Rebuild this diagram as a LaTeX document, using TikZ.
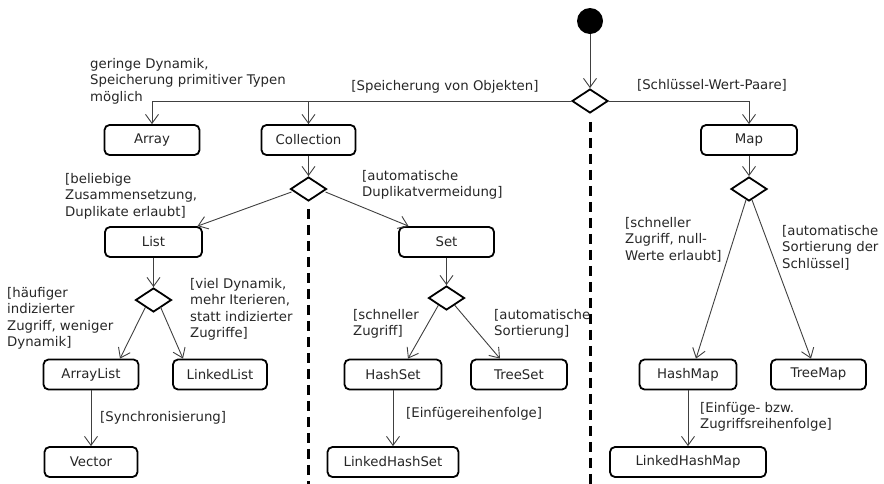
\documentclass[tikz,border=0pt]{standalone}
\usepackage{fontspec}
\setmainfont{DejaVu Sans}
\usetikzlibrary{arrows.meta,shapes.geometric,calc}
\begin{document}
\begin{tikzpicture}[x=1pt,y=-1pt,
  every node/.style={font=\fontsize{13.3}{16.5}\selectfont, text=black!85},
  state/.style={draw=black, line width=1.8pt, rounded corners=5pt,
    minimum height=30pt, inner sep=0pt, fill=white},
  choice/.style={draw=black, line width=1.8pt, diamond, minimum width=36pt,
    minimum height=24pt, inner sep=0pt, fill=white},
  flow/.style={draw=black!75, line width=0.9pt,
    -{Straight Barb[length=9pt,width=13pt,line width=0.9pt]}},
  divider/.style={draw=black, line width=3pt, dash pattern=on 10pt off 6pt},
  guard/.style={align=left, inner sep=0pt, anchor=north west},
]
\useasboundingbox (0,0) rectangle (884,483);
\coordinate (bottomedge) at (0,486);

% initial node and decisions
\node[circle, fill=black, minimum size=26pt, inner sep=0pt] (start) at (590,21) {};
\node[choice] (topd) at (590,101) {};
\node[choice] (cold) at (308.5,189) {};
\node[choice] (listd) at (153.5,300) {};
\node[choice] (setd) at (446.5,298) {};
\node[choice] (mapd) at (749,189) {};

% swimlane separators
\draw[divider] ($(topd.south)+(0,8)$) -- (topd |- bottomedge);
\draw[divider] ($(cold.south)+(0,7)$) -- (cold |- bottomedge);

% actions
\node[state, minimum width=95pt] (array) at (152,140) {Array};
\node[state, minimum width=94pt] (collection) at (308.5,140) {Collection};
\node[state, minimum width=96pt] (map) at (749,140) {Map};
\node[state, minimum width=97pt] (list) at (153.5,242) {List};
\node[state, minimum width=95pt] (set) at (446.5,242) {Set};
\node[state, minimum width=95pt] (arraylist) at (91,374.5) {ArrayList};
\node[state, minimum width=94pt] (linkedlist) at (220,374.5) {LinkedList};
\node[state, minimum width=93pt] (vector) at (91,462) {Vector};
\node[state, minimum width=97pt] (hashset) at (393,374.5) {HashSet};
\node[state, minimum width=96pt] (treeset) at (519,374.5) {TreeSet};
\node[state, minimum width=131pt] (linkedhashset) at (393,462) {LinkedHashSet};
\node[state, minimum width=97pt] (hashmap) at (688,374.5) {HashMap};
\node[state, minimum width=95pt] (treemap) at (818.5,374.5) {TreeMap};
\node[state, minimum width=156pt] (linkedhashmap) at (688,462) {LinkedHashMap};

% control flow
\draw[flow] (start.south) -- (topd.north);
\draw[flow] (topd.west) -| (array.north);
\draw[flow] (topd.west) -| (collection.north);
\draw[flow] (topd.east) -| (map.north);
\draw[flow] (collection.south) -- (cold.north);
\draw[flow] ($(cold)+(-17,3)$) -- ($(list.north)+(44,0)$);
\draw[flow] ($(cold)+(17,3)$) -- ($(set.north)+(-38,0)$);
\draw[flow] (list.south) -- (listd.north);
\draw[flow] ($(listd)+(-8,7)$) -- ($(arraylist.north)+(29,0)$);
\draw[flow] ($(listd)+(7,7)$) -- ($(linkedlist.north)+(-37,0)$);
\draw[flow] (arraylist.south) -- (vector.north);
\draw[flow] (set.south) -- (setd.north);
\draw[flow] ($(setd)+(-8,7)$) -- ($(hashset.north)+(15,0)$);
\draw[flow] ($(setd)+(8,7)$) -- ($(treeset.north)+(-19,0)$);
\draw[flow] (hashset.south) -- (linkedhashset.north);
\draw[flow] (map.south) -- (mapd.north);
\draw[flow] ($(mapd)+(-3,11)$) -- ($(hashmap.north)+(8,0)$);
\draw[flow] ($(mapd)+(3,11)$) -- ($(treemap.north)+(-7.5,0)$);
\draw[flow] (hashmap.south) -- (linkedhashmap.north);

% guards
\node[guard] (g1) at (90,58) {geringe Dynamik,\\Speicherung primitiver Typen\\möglich};
\node (g2) at (445,87) {[Speicherung von Objekten]};
\node (g3) at (712,85) {[Schlüssel-Wert-Paare]};
\node[guard] (g4) at (65,173) {[beliebige\\Zusammensetzung,\\Duplikate erlaubt]};
\node[guard] (g5) at (362,170) {[automatische\\Duplikatvermeidung]};
\node[guard] (g6) at (7,287) {[häufiger\\indizierter\\Zugriff, weniger\\Dynamik]};
\node[guard] (g7) at (190,278) {[viel Dynamik,\\mehr Iterieren,\\statt indizierter\\Zugriffe]};
\node[guard] (g8) at (353,309) {[schneller\\Zugriff]};
\node[guard] (g9) at (494,309) {[automatische\\Sortierung]};
\node[guard] (g10) at (625,217) {[schneller\\Zugriff, null-\\Werte erlaubt]};
\node[guard] (g11) at (782,225) {[automatische\\Sortierung der\\Schlüssel]};
\node[anchor=west, inner sep=0pt] (g12) at (100,418) {[Synchronisierung]};
\node[anchor=west, inner sep=0pt] (g13) at (406,414) {[Einfügereihenfolge]};
\node[guard] (g14) at (700,402) {[Einfüge- bzw.\\Zugriffsreihenfolge]};
\end{tikzpicture}
\end{document}
